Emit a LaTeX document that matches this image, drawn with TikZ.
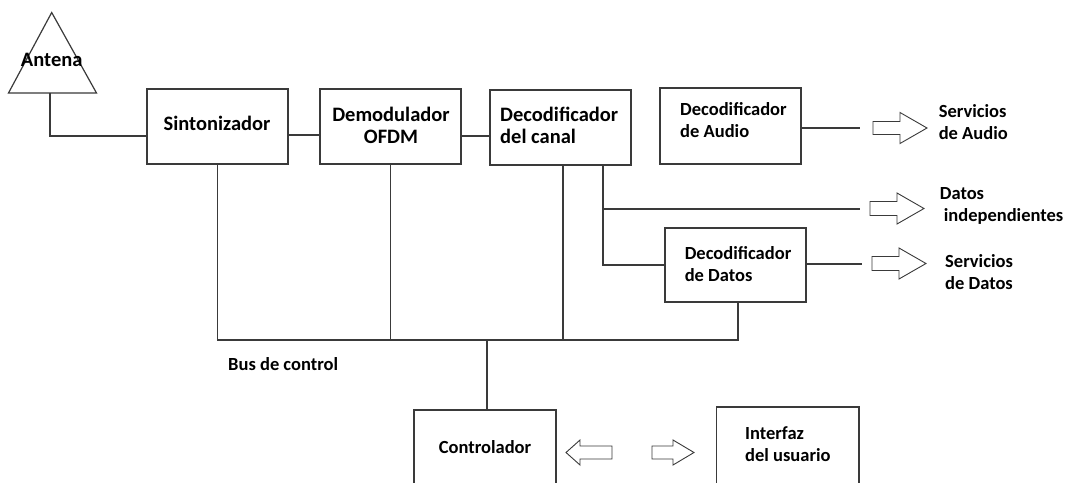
\documentclass[tikz,border=0pt]{standalone}
\usepackage{fontspec}
\setmainfont{Carlito}
\usetikzlibrary{calc}
\definecolor{ink}{HTML}{3A3A3A}
\tikzset{
  block/.style={draw=ink, line width=1.4pt, inner sep=0pt, minimum width=141pt},
  wire/.style={draw=ink, line width=1.4pt},
  big/.style={font=\fontsize{20.5}{22}\selectfont\bfseries, inner sep=0pt},
  small/.style={font=\fontsize{18.5}{22}\selectfont\bfseries, inner sep=0pt, align=left},
  pics/hollowarrow/.style n args={4}{code={
    \draw[ink, line width=0.9pt, line join=miter]
      (0,-#3) -- ({#1-#2},-#3) -- ({#1-#2},-#4) -- (#1,0) --
      ({#1-#2},#4) -- ({#1-#2},#3) -- (0,#3) -- cycle;}}
}
\begin{document}
\begin{tikzpicture}[x=1pt, y=-1pt]
\clip (0,0) rectangle (1068,482);
\fill[white] (0,0) rectangle (1068,482);

% antenna
\draw[ink, line width=1.2pt, line join=miter] (51.7,12.5) -- (96.5,93) -- (8.5,93) -- cycle;
\coordinate (antfoot) at (50,93);
\node[big, anchor=base] (antena) at (51.7,66.7) {Antena};

% processing chain
\node[block, minimum height=75pt] (sint)  at (217.5,126.5) {};
\node[block, minimum height=75pt] (demod) at (390.5,126.5) {};
\node[block, minimum height=75pt] (canal) at (560.5,127.5) {};
\node[block, minimum height=76pt] (audio) at (730.5,126) {};
\node[block, minimum height=74pt] (datos) at (735.5,265) {};
\node[block, minimum width=142pt, minimum height=85pt] (ctrl) at (485,452.5) {};
\node[block, minimum width=142.5pt, minimum height=88pt] (iface) at (787.75,451) {};

% texts (multi-line nodes sit on the baseline of their last line)
\node[big, anchor=base] (sintT) at (217,130) {Sintonizador};
\node[big, anchor=base, align=center] (demodT) at (391,143) {Demodulador\\OFDM};
\node[big, anchor=base west, align=left] (canalT) at (500,143) {Decodificador\\del canal};
\node[small, anchor=base west] (audioT) at (680,137) {Decodificador\\de Audio};
\node[small, anchor=base west] (datosT) at (684.6,281) {Decodificador\\de Datos};
\node[small, anchor=base west] (servA) at (938.6,139.5) {Servicios\\de Audio};
\node[small, anchor=base west] (indep) at (939.7,221.5) {Datos\\\hspace*{4pt}independientes};
\node[small, anchor=base west] (servD) at (945,289) {Servicios\\de Datos};
\node[small, anchor=base west] (busT) at (228,370) {Bus de control};
\node[small, anchor=base] (ctrlT) at (485,453) {Controlador};
\node[small, anchor=base west] (ifaceT) at (745,461) {Interfaz\\del usuario};

% signal path
\draw[wire] (antfoot) |- ($(sint.west)+(0,9.5)$);
\draw[wire] ($(sint.east)+(0,8.5)$) coordinate (p1) -- (p1 -| demod.west);
\draw[wire] ($(demod.east)+(0,9.5)$) coordinate (p2) -- (p2 -| canal.west);

% outputs
\coordinate (audioEnd) at (860,128);
\draw[wire] (audioEnd -| audio.east) -- (audioEnd);
\coordinate (tap) at (603,165);
\coordinate (indepEnd) at (860,209);
\draw[wire] (tap) |- (datos.west);
\draw[wire] (tap |- indepEnd) -- (indepEnd);
\coordinate (datosEnd) at (862,264);
\draw[wire] (datosEnd -| datos.east) -- (datosEnd);

\pic at (873,128) {hollowarrow={54}{27}{6.5}{15.5}};
\pic at (870,208.5) {hollowarrow={54}{27}{7}{15.5}};
\pic at (872,263.5) {hollowarrow={54}{27}{7}{15.5}};

% control bus
\coordinate (bus) at (0,340);
\draw[wire] (sint.south) -- (sint.south |- bus) -- ($(datos.south |- bus)+(2.5,0)$) -- ($(datos.south)+(2.5,0)$);
\draw[wire] (demod.south) -- (demod.south |- bus);
\draw[wire] ($(canal.south)+(2.5,0)$) coordinate (p3) -- (p3 |- bus);
\draw[wire] ($(ctrl.north)+(2,0)$) coordinate (p4) -- (p4 |- bus);

% controller / user interface link
\pic[xscale=-1] at (612,452.5) {hollowarrow={46}{14}{6.5}{12.5}};
\pic at (652,452.5) {hollowarrow={42}{21}{6.5}{12.5}};
\end{tikzpicture}
\end{document}
